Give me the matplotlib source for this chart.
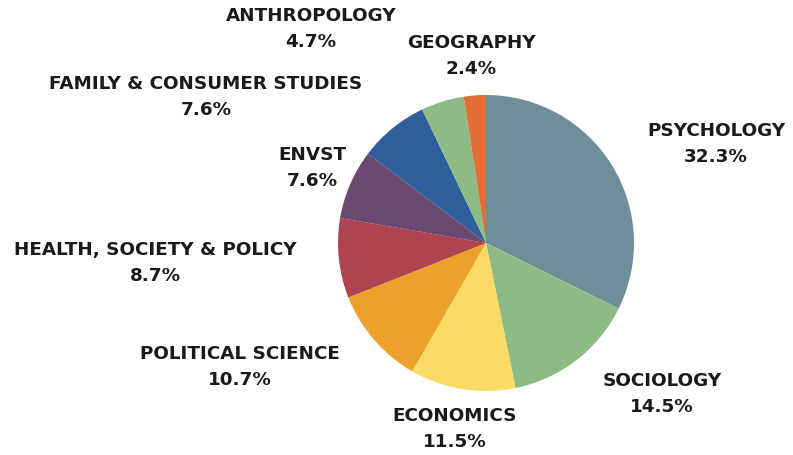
import matplotlib.pyplot as plt

labels = ["PSYCHOLOGY", "SOCIOLOGY", "ECONOMICS", "POLITICAL SCIENCE",
          "HEALTH, SOCIETY & POLICY", "ENVST", "FAMILY & CONSUMER STUDIES",
          "ANTHROPOLOGY", "GEOGRAPHY"]
shares = [32.3, 14.5, 11.5, 10.7, 8.7, 7.6, 7.6, 4.7, 2.4]
colors = ["#6E8E9A", "#8DBB83", "#F9DB66", "#EBA12A", "#AF434F",
          "#6B486F", "#2E5E9B", "#8DBB83", "#E07038"]

# label centres in pixel coords (x, y from top)
label_pos = [(716, 144), (662, 394), (455, 429), (240, 367), (155, 263),
             (312, 168), (206, 97), (311, 29), (471, 56)]

W, H = 793, 455
fig = plt.figure(figsize=(W / 100, H / 100), dpi=100)
ax = fig.add_axes([0, 0, 1, 1])

ax.pie(shares, colors=colors, startangle=90, counterclock=False,
       center=(486, H - 243), radius=148,
       wedgeprops=dict(linewidth=0))
ax.set_xlim(0, W)
ax.set_ylim(0, H)
ax.set_aspect("equal")
ax.axis("off")

for lab, val, (x, y) in zip(labels, shares, label_pos):
    ax.text(x, H - y, f"{lab}\n{val}%", ha="center", va="center",
            fontsize=13.2, fontweight="bold", color="#1a1a1a",
            linespacing=1.55, family="DejaVu Sans")

plt.savefig("out.png", dpi=100)
